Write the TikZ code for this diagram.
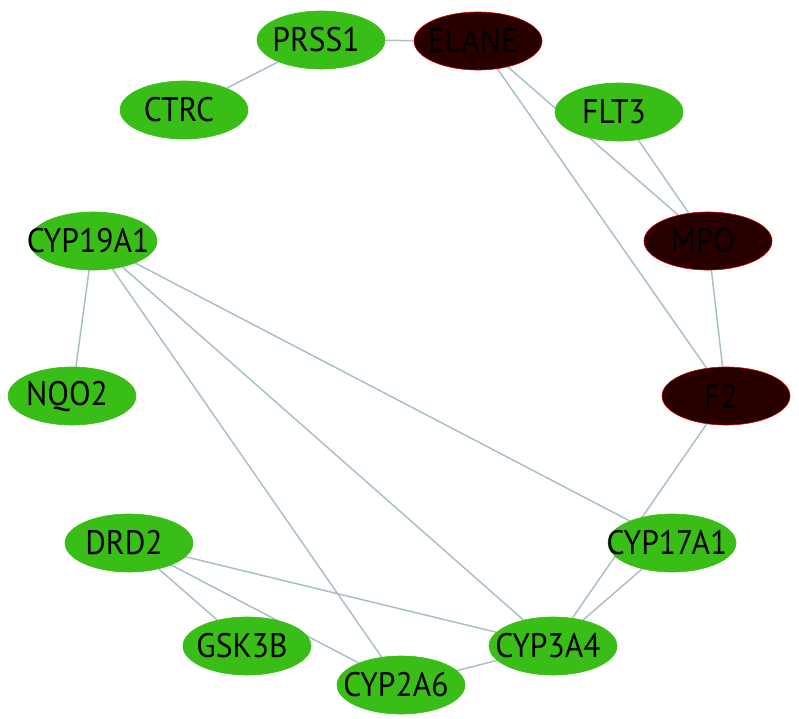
\documentclass[tikz,border=0pt]{standalone}
\usepackage{graphicx}
\usepackage{fontspec}
\setmainfont{PT Sans}
\usetikzlibrary{shapes.geometric,backgrounds}
\definecolor{gnode}{RGB}{56,190,22}
\definecolor{dnode}{RGB}{40,0,0}
\definecolor{dborder}{RGB}{210,0,0}
\definecolor{edgec}{RGB}{170,192,200}
\newcommand{\nlab}[1]{\makebox[0pt]{\scalebox{0.93}[1]{#1}\hspace{10pt}}}
\tikzset{
  gene/.style={ellipse, fill=gnode, draw=gnode, line width=0.6pt, minimum width=128pt, minimum height=58pt, inner sep=0pt, font=\fontsize{34}{34}\selectfont, text=black},
  hub/.style={gene, fill=dnode, draw=dborder},
  link/.style={draw=edgec, line width=1.5pt}
}
\begin{document}
\begin{tikzpicture}[x=1pt,y=-1pt]
\useasboundingbox (0,0) rectangle (799,718);
\node[gene] (PRSS1) at (321,40) {\nlab{PRSS1}};
\node[hub] (ELANE) at (478,41) {\nlab{ELANE}};
\node[gene] (CTRC) at (184,110) {\nlab{CTRC}};
\node[gene] (FLT3) at (619,112) {\nlab{FLT3}};
\node[hub] (MPO) at (708,241) {\nlab{MPO}};
\node[hub] (F2) at (726,396) {\nlab{F2}};
\node[gene] (CYP17A1) at (672,543) {\nlab{CYP17A1}};
\node[gene] (CYP3A4) at (553,646) {\nlab{CYP3A4}};
\node[gene] (CYP2A6) at (401,685) {\nlab{CYP2A6}};
\node[gene] (GSK3B) at (247,646) {\nlab{GSK3B}};
\node[gene] (DRD2) at (129,543) {\nlab{DRD2}};
\node[gene] (NQO2) at (72,396) {\nlab{NQO2}};
\node[gene] (CYP19A1) at (93,241) {\nlab{CYP19A1}};
\begin{pgfonlayer}{background}
\path[link] (PRSS1) -- (ELANE);
\path[link] (PRSS1) -- (CTRC);
\path[link] (ELANE.center) -- (MPO);
\path[link] (ELANE) -- (F2);
\path[link] (FLT3) -- (MPO);
\path[link] (MPO) -- (F2);
\path[link] (F2) -- (CYP3A4.center);
\path[link] (CYP17A1) -- (CYP3A4);
\path[link] (CYP19A1) -- (NQO2);
\path[link] (CYP19A1) -- (CYP17A1);
\path[link] (CYP19A1) -- (CYP3A4);
\path[link] (CYP19A1) -- (CYP2A6);
\path[link] (DRD2) -- (GSK3B);
\path[link] (DRD2.center) -- (CYP2A6);
\path[link] (DRD2) -- (CYP3A4);
\path[link] (CYP2A6) -- (CYP3A4);
\end{pgfonlayer}
\end{tikzpicture}
\end{document}
